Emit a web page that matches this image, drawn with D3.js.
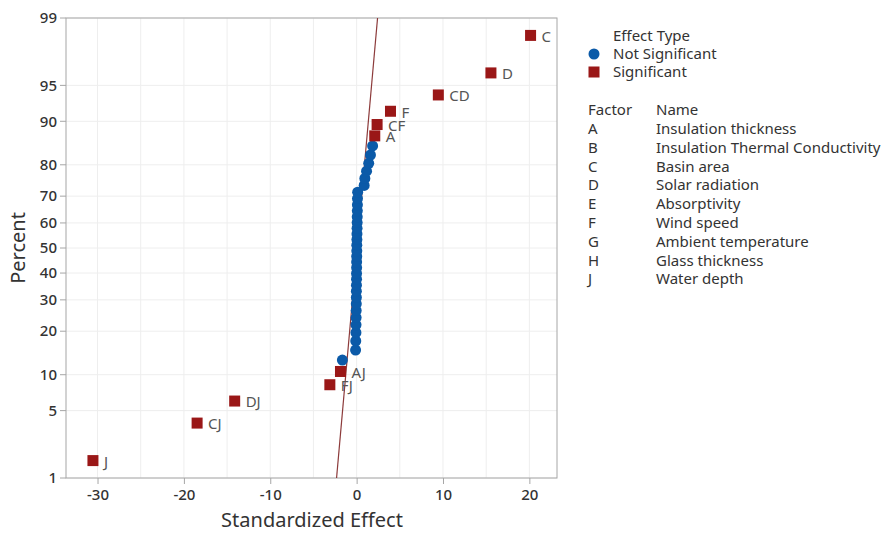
<!DOCTYPE html>
<html>
<head>
<meta charset="utf-8">
<script src="https://cdn.jsdelivr.net/npm/d3@7"></script>
<style>
  html, body { margin: 0; padding: 0; background: #fff; }
  svg { display: block; font-family: "Noto Sans", "Open Sans", sans-serif; }
</style>
</head>
<body>
<svg id="chart" width="887" height="533"></svg>
<script>
// Standardized effects (sorted rank determines the percent position)
const significantTerms   = ["J", "CJ", "DJ", "FJ", "AJ", "A", "CF", "F", "CD", "D", "C"];
const significantEffects = [-30.53, -18.47, -14.12, -3.10, -1.87, 2.10, 2.37, 3.92, 9.46, 15.55, 20.14];
const otherEffects = [
  -1.65, -0.12, -0.10, -0.08, -0.07, -0.06, -0.05, -0.04, -0.03, -0.03,
  -0.02, -0.01, -0.01, 0.00, 0.00, 0.01, 0.02, 0.02, 0.03, 0.04,
  0.05, 0.06, 0.07, 0.08, 0.09, 0.10, 0.12, 0.87, 0.95, 1.15,
  1.40, 1.60, 1.85
];
// Reference line: effect = mean + pse * z
const lineMean = 0.05;
const linePse = 1.02;

const percentTicks = [1, 5, 10, 20, 30, 40, 50, 60, 70, 80, 90, 95, 99];
const effectTicks = [-30, -20, -10, 0, 10, 20];
const effectGrid = [-30, -25, -20, -15, -10, -5, 0, 5, 10, 15, 20];

const factorCodes = ["A", "B", "C", "D", "E", "F", "G", "H", "J"];
const factorNames = ["Insulation thickness", "Insulation Thermal Conductivity", "Basin area",
  "Solar radiation", "Absorptivity", "Wind speed", "Ambient temperature", "Glass thickness", "Water depth"];

// Inverse standard normal CDF (Acklam's rational approximation)
function probit(p) {
  const a = [-3.969683028665376e+01, 2.209460984245205e+02, -2.759285104469687e+02, 1.383577518672690e+02, -3.066479806614716e+01, 2.506628277459239e+00];
  const b = [-5.447609879822406e+01, 1.615858368580409e+02, -1.556989798598866e+02, 6.680131188771972e+01, -1.328068155288572e+01];
  const c = [-7.784894002430293e-03, -3.223964580411365e-01, -2.400758277161838e+00, -2.549732539343734e+00, 4.374664141464968e+00, 2.938163982698783e+00];
  const d = [7.784695709041462e-03, 3.224671290700398e-01, 2.445134137142996e+00, 3.754408661907416e+00];
  const pl = 0.02425, ph = 1 - pl;
  let q, r;
  if (p < pl) {
    q = Math.sqrt(-2 * Math.log(p));
    return (((((c[0]*q+c[1])*q+c[2])*q+c[3])*q+c[4])*q+c[5]) / ((((d[0]*q+d[1])*q+d[2])*q+d[3])*q+1);
  }
  if (p <= ph) {
    q = p - 0.5; r = q * q;
    return (((((a[0]*r+a[1])*r+a[2])*r+a[3])*r+a[4])*r+a[5])*q / (((((b[0]*r+b[1])*r+b[2])*r+b[3])*r+b[4])*r+1);
  }
  q = Math.sqrt(-2 * Math.log(1 - p));
  return -(((((c[0]*q+c[1])*q+c[2])*q+c[3])*q+c[4])*q+c[5]) / ((((d[0]*q+d[1])*q+d[2])*q+d[3])*q+1);
}

// Combine and rank all effects; percent = (i - 0.3) / (n + 0.4)
const allPoints = significantEffects.map((v, i) => ({ effect: v, term: significantTerms[i], sig: true }))
  .concat(otherEffects.map(v => ({ effect: v, term: null, sig: false })));
allPoints.sort((a, b) => a.effect - b.effect);
const n = allPoints.length;
allPoints.forEach((d, i) => { d.pct = 100 * (i + 1 - 0.3) / (n + 0.4); });

const svg = d3.select("#chart");
const plotL = 66, plotR = 557, plotT = 18, plotB = 478;

const x = d3.scaleLinear().domain([-33.65, 23.2]).range([plotL, plotR]);
const z = d3.scaleLinear().domain([probit(0.01), probit(0.99)]).range([plotB, plotT]);
const y = p => z(probit(p / 100));

const textCol = "#333333";
const blue = "#0b5aa8";
const red = "#9a1717";
const fs = 15;

// Grid
const grid = svg.append("g");
grid.selectAll("line.v").data(effectGrid).join("line").attr("class", "v")
  .attr("x1", d => x(d)).attr("x2", d => x(d)).attr("y1", plotT).attr("y2", plotB)
  .attr("stroke", "#eeeeee").attr("stroke-width", 1);
grid.selectAll("line.h").data(percentTicks).join("line").attr("class", "h")
  .attr("x1", plotL).attr("x2", plotR).attr("y1", d => y(d)).attr("y2", d => y(d))
  .attr("stroke", "#eeeeee").attr("stroke-width", 1);

// Frame
svg.append("rect").attr("x", plotL).attr("y", plotT).attr("width", plotR - plotL).attr("height", plotB - plotT)
  .attr("fill", "none").attr("stroke", "#a6a6a6").attr("stroke-width", 1);

// Percent axis (normal probability scale)
const yG = svg.append("g");
yG.selectAll("line").data(percentTicks).join("line")
  .attr("x1", plotL - 6).attr("x2", plotL).attr("y1", d => y(d)).attr("y2", d => y(d))
  .attr("stroke", "#a6a6a6");
yG.selectAll("text").data(percentTicks).join("text")
  .attr("x", plotL - 9).attr("y", d => y(d)).attr("dy", "0.35em")
  .attr("text-anchor", "end").attr("font-size", fs).attr("font-weight", 500).attr("fill", textCol)
  .text(d => d);

// Effect axis
const xAxis = svg.append("g").attr("transform", `translate(0,${plotB})`)
  .call(d3.axisBottom(x).tickValues(effectTicks).tickSize(6).tickPadding(5).tickFormat(d => String(d)));
xAxis.select(".domain").remove();
xAxis.selectAll("line").attr("stroke", "#a6a6a6");
xAxis.selectAll("text").attr("font-size", fs).attr("font-weight", 500).attr("fill", textCol)
  .style("font-family", "'Noto Sans', 'Open Sans', sans-serif");

// Axis titles
svg.append("text").attr("x", 312).attr("y", 527)
  .attr("text-anchor", "middle").attr("font-size", 20).attr("fill", textCol)
  .text("Standardized Effect");
svg.append("text").attr("transform", `translate(25,${(plotT + plotB) / 2}) rotate(-90)`)
  .attr("text-anchor", "middle").attr("font-size", 20).attr("fill", textCol)
  .text("Percent");

// Reference line
const zLo = probit(0.01), zHi = probit(0.99);
svg.append("line")
  .attr("x1", x(lineMean + linePse * zLo)).attr("y1", z(zLo))
  .attr("x2", x(lineMean + linePse * zHi)).attr("y2", z(zHi))
  .attr("stroke", "#8c3a3a").attr("stroke-width", 1.2);

// Points
svg.append("g").selectAll("circle").data(allPoints.filter(d => !d.sig)).join("circle")
  .attr("cx", d => x(d.effect)).attr("cy", d => y(d.pct)).attr("r", 5.5)
  .attr("fill", blue);

const sq = 11;
svg.append("g").selectAll("rect").data(allPoints.filter(d => d.sig)).join("rect")
  .attr("x", d => x(d.effect) - sq / 2).attr("y", d => y(d.pct) - sq / 2)
  .attr("width", sq).attr("height", sq).attr("fill", red);

svg.append("g").selectAll("text").data(allPoints.filter(d => d.sig)).join("text")
  .attr("x", d => x(d.effect) + 11).attr("y", d => y(d.pct) + 1).attr("dy", "0.35em")
  .attr("font-size", fs).attr("fill", "#555555")
  .text(d => d.term);

// Legend
const lg = svg.append("g");
lg.append("text").attr("x", 613).attr("y", 36).attr("dy", "0.35em")
  .attr("font-size", fs).attr("fill", textCol).text("Effect Type");
lg.append("circle").attr("cx", 594).attr("cy", 54).attr("r", 5.5).attr("fill", blue);
lg.append("text").attr("x", 613).attr("y", 54).attr("dy", "0.35em")
  .attr("font-size", fs).attr("fill", textCol).text("Not Significant");
lg.append("rect").attr("x", 594 - 5.5).attr("y", 72 - 5.5).attr("width", 11).attr("height", 11).attr("fill", red);
lg.append("text").attr("x", 613).attr("y", 72).attr("dy", "0.35em")
  .attr("font-size", fs).attr("fill", textCol).text("Significant");

// Factor table
const rowY = i => 110 + i * 18.8;
lg.append("text").attr("x", 588).attr("y", rowY(0)).attr("dy", "0.35em")
  .attr("font-size", fs).attr("fill", textCol).text("Factor");
lg.append("text").attr("x", 656).attr("y", rowY(0)).attr("dy", "0.35em")
  .attr("font-size", fs).attr("fill", textCol).text("Name");
lg.selectAll("text.code").data(factorCodes).join("text").attr("class", "code")
  .attr("x", 588).attr("y", (d, i) => rowY(i + 1)).attr("dy", "0.35em")
  .attr("font-size", fs).attr("fill", textCol).text(d => d);
lg.selectAll("text.name").data(factorNames).join("text").attr("class", "name")
  .attr("x", 656).attr("y", (d, i) => rowY(i + 1)).attr("dy", "0.35em")
  .attr("font-size", fs).attr("fill", textCol).text(d => d);
</script>
</body>
</html>
